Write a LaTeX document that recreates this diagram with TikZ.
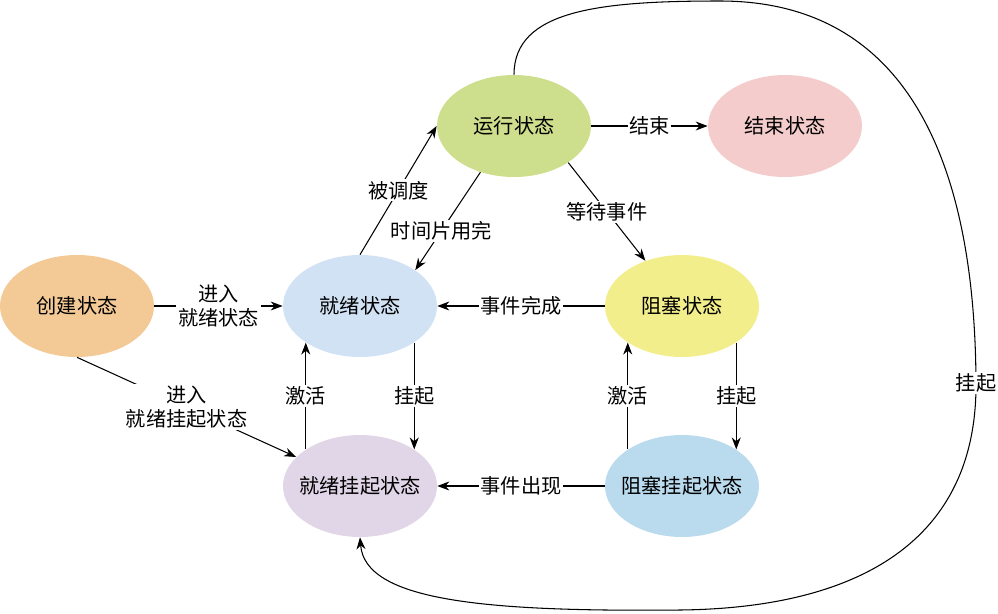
\documentclass[tikz,border=0pt]{standalone}
\usepackage{fontspec}
\setmainfont{Noto Sans CJK SC}
\usepackage{tikz}
\usetikzlibrary{shapes.geometric,arrows.meta}

\definecolor{createfill}{RGB}{243,201,149}
\definecolor{readyfill}{RGB}{208,226,243}
\definecolor{runfill}{RGB}{205,223,140}
\definecolor{endfill}{RGB}{244,204,204}
\definecolor{blockfill}{RGB}{243,238,140}
\definecolor{rsuspfill}{RGB}{225,214,232}
\definecolor{bsuspfill}{RGB}{186,219,238}
\newcommand\sname[1]{\makebox[0pt]{#1}}

\begin{document}
\begin{tikzpicture}[x=0.02cm,y=-0.02cm]
\tikzstyle{every node}+=[font=\fontsize{11.5pt}{14pt}\selectfont]
\tikzstyle{state}=[ellipse,draw=none,minimum width=3.08cm,minimum height=2.04cm,inner sep=0pt]
\tikzstyle{lbl}=[fill=white,inner sep=1pt,align=center]
\tikzstyle{arr}=[black,line width=0.6pt,-{Stealth[length=2.4mm,width=1.8mm]}]
\useasboundingbox (0,0) rectangle (998,613);
\node [state,fill=createfill] (create) at (77,306) {\sname{创建状态}};
\node [state,fill=readyfill] (ready) at (360,306) {\sname{就绪状态}};
\node [state,fill=runfill] (run) at (514,126) {\sname{运行状态}};
\node [state,fill=endfill] (end) at (785,126) {\sname{结束状态}};
\node [state,fill=blockfill] (block) at (682,306) {\sname{阻塞状态}};
\node [state,fill=rsuspfill] (rsusp) at (360,486) {\sname{就绪挂起状态}};
\node [state,fill=bsuspfill] (bsusp) at (682,486) {\sname{阻塞挂起状态}};
\draw [arr] (create) -- node [lbl] {进入\\就绪状态} (ready);
\draw [arr] (create.south) -- node [lbl] {进入\\就绪挂起状态} (rsusp);
\draw [arr] (ready.north) -- node [lbl] {被调度} (run.west);
\draw [arr] (run.234) -- node [lbl,pos=0.6] {时间片用完} (ready.33);
\draw [arr] (run) -- node [lbl] {结束} (end);
\draw [arr] (run.-34) -- node [lbl] {等待事件} (block.129);
\draw [arr] (block) -- node [lbl] {事件完成} (ready);
\draw [arr] (ready.-34) -- node [lbl] {挂起} (rsusp.34);
\draw [arr] (rsusp.146) -- node [lbl] {激活} (ready.214);
\draw [arr] (block.-34) -- node [lbl] {挂起} (bsusp.34);
\draw [arr] (bsusp.146) -- node [lbl] {激活} (block.214);
\draw [arr] (bsusp) -- node [lbl] {事件出现} (rsusp);
\draw [arr] (run.north) .. controls (514,10) and (600,1) .. (720,1)
  .. controls (900,1) and (975,150) .. (976,383) node [lbl] (susplbl) {挂起}
  .. controls (977,540) and (860,608) .. (680,610)
  .. controls (480,612) and (365,600) .. (rsusp.south);
\end{tikzpicture}
\end{document}
